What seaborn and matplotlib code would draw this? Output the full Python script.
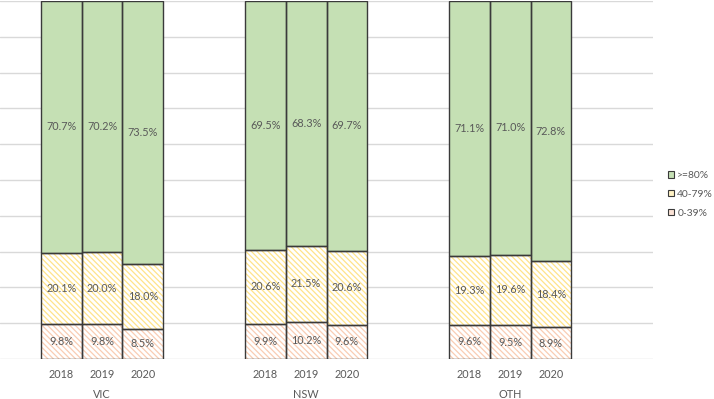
import numpy as np
import seaborn as sns
import matplotlib.pyplot as plt
from matplotlib.patches import Patch
from matplotlib.transforms import blended_transform_factory

regions = ['VIC', 'NSW', 'OTH']
years = ['2018', '2019', '2020']
bands = ['0-39%', '40-79%', '>=80%']

# shares per band, order VIC 2018..2020, NSW 2018..2020, OTH 2018..2020
low = [9.8, 9.8, 8.5, 9.9, 10.2, 9.6, 9.6, 9.5, 8.9]
mid = [20.1, 20.0, 18.0, 20.6, 21.5, 20.6, 19.3, 19.6, 18.4]
high = [70.7, 70.2, 73.5, 69.5, 68.3, 69.7, 71.1, 71.0, 72.8]

sns.set_theme(style='white')
plt.rcParams['font.family'] = ['Lato', 'DejaVu Sans']
plt.rcParams['hatch.linewidth'] = 0.9

txt = '#595959'
edge = '#3a3a3a'
green = '#C5E0B4'
yellow = '#FFE38A'
pink = '#F9CDB4'
fs = 7.8

fig = plt.figure(figsize=(7.14, 3.99), dpi=100)
ax = fig.add_axes([0, 40 / 399, 653 / 714, 358 / 399])

# bar slots: three per region, two empty slots between regions
x = np.array([g * 5 + j for g in range(len(regions)) for j in range(len(years))])
vals = np.array([low, mid, high])
frac = vals / vals.sum(axis=0)  # 100% stacked
bottoms = np.vstack([np.zeros(len(x)), np.cumsum(frac, axis=0)[:-1]])

ax.bar(x, frac[0], bottom=bottoms[0], width=1.0, color='white', edgecolor=pink,
       hatch='\\\\\\\\\\\\', linewidth=0, zorder=2)
ax.bar(x, frac[1], bottom=bottoms[1], width=1.0, color='white', edgecolor=yellow,
       hatch='\\\\\\\\\\\\', linewidth=0, zorder=2)
ax.bar(x, frac[2], bottom=bottoms[2], width=1.0, color=green, linewidth=0, zorder=2)
for k in range(3):
    ax.bar(x, frac[k], bottom=bottoms[k], width=1.0, fill=False, edgecolor=edge,
           linewidth=1.0, zorder=3)

# value labels
for k in range(3):
    for i in range(len(x)):
        ax.text(x[i], bottoms[k][i] + frac[k][i] / 2, f'{vals[k][i]:.1f}%',
                ha='center', va='center', fontsize=fs, color=txt, zorder=4)

ax.set_xlim(-1.5, 14.5)
ax.set_ylim(0, 1.0)
ax.set_yticks(np.arange(0, 1.01, 0.1))
ax.set_yticklabels([])
ax.grid(axis='y', color='#D9D9D9', linewidth=1, zorder=0)
ax.tick_params(axis='y', length=0)
for s in ax.spines.values():
    s.set_visible(False)

ax.set_xticks(x)
ax.set_xticklabels(years * len(regions), fontsize=fs, color=txt)
ax.tick_params(axis='x', length=0, pad=7.5)

trans = blended_transform_factory(ax.transData, ax.transAxes)
for g, r in enumerate(regions):
    ax.text(g * 5 + 1, -35 / 358, r, transform=trans, ha='center', va='center',
            fontsize=fs, color=txt)

handles = [Patch(facecolor=green, edgecolor=edge, linewidth=0.8),
           Patch(facecolor='#FFF2C4', edgecolor=edge, linewidth=0.8),
           Patch(facecolor='#FBE3D6', edgecolor=edge, linewidth=0.8)]
fig.legend(handles, ['>=80%', '40-79%', '0-39%'], loc='upper left',
           bbox_to_anchor=(668 / 714, 1 - 171 / 399), frameon=False,
           fontsize=7.4, labelcolor=txt, handlelength=0.6, handleheight=0.6,
           handletextpad=0.3, labelspacing=0.95, borderpad=0, borderaxespad=0)

fig.savefig('out.png', dpi=100)
